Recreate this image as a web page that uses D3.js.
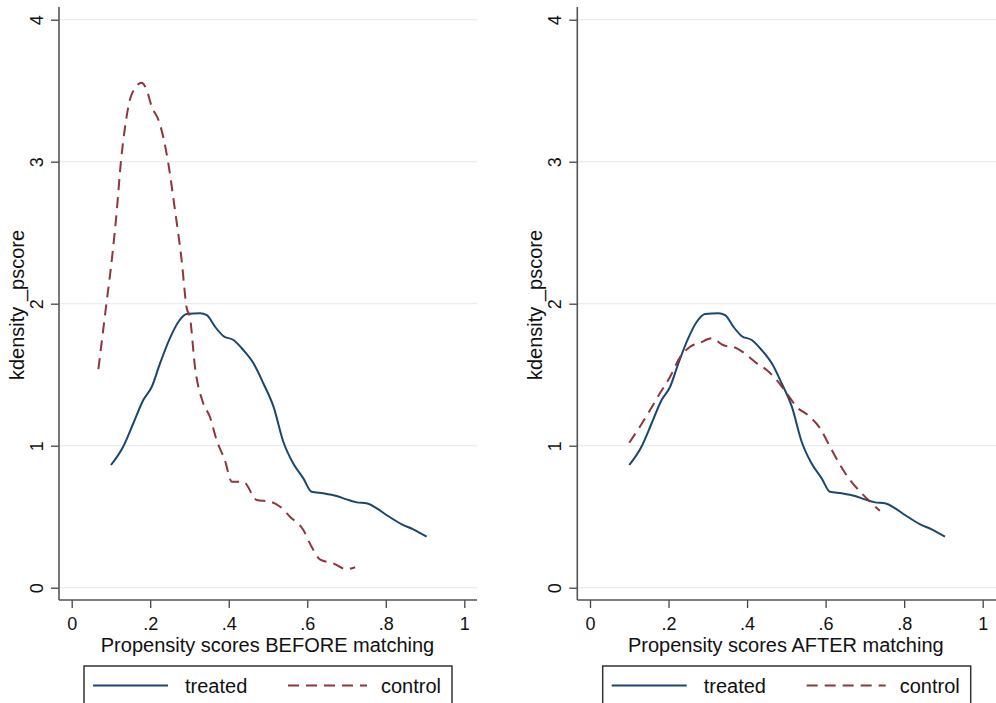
<!DOCTYPE html>
<html>
<head>
<meta charset="utf-8">
<script src="https://cdn.jsdelivr.net/npm/d3@7"></script>
<style>
  body { margin: 0; background: #fff; }
  svg { display: block; font-family: "Liberation Sans", Arial, sans-serif; }
</style>
</head>
<body>
<div id="chart"></div>
<script>
// kernel density of the treated group (same curve in both panels)
const treatedX = [0.100, 0.131, 0.157, 0.182, 0.204, 0.225, 0.250, 0.272, 0.293, 0.327, 0.344, 0.365, 0.386, 0.412, 0.437, 0.463, 0.488, 0.514, 0.539, 0.564, 0.590, 0.611, 0.641, 0.675, 0.700, 0.726, 0.751, 0.777, 0.802, 0.841, 0.870, 0.904];
const treatedY = [0.864, 0.993, 1.158, 1.320, 1.415, 1.580, 1.756, 1.873, 1.927, 1.932, 1.920, 1.838, 1.773, 1.744, 1.674, 1.580, 1.440, 1.275, 1.028, 0.876, 0.770, 0.676, 0.665, 0.646, 0.622, 0.601, 0.594, 0.559, 0.512, 0.446, 0.411, 0.359];

// control group before matching
const beforeX = [0.068, 0.087, 0.104, 0.115, 0.125, 0.136, 0.148, 0.161, 0.178, 0.191, 0.204, 0.221, 0.233, 0.246, 0.263, 0.280, 0.293, 0.301, 0.314, 0.335, 0.352, 0.369, 0.390, 0.408, 0.437, 0.471, 0.505, 0.531, 0.556, 0.590, 0.611, 0.632, 0.666, 0.700, 0.722];
const beforeY = [1.540, 1.968, 2.355, 2.660, 2.990, 3.246, 3.434, 3.517, 3.556, 3.505, 3.387, 3.294, 3.176, 2.989, 2.660, 2.308, 1.968, 1.908, 1.556, 1.299, 1.204, 1.040, 0.899, 0.746, 0.746, 0.618, 0.606, 0.570, 0.500, 0.406, 0.289, 0.200, 0.172, 0.130, 0.144];

// control group after matching
const afterX = [0.100, 0.127, 0.153, 0.178, 0.204, 0.229, 0.255, 0.280, 0.310, 0.339, 0.374, 0.399, 0.425, 0.450, 0.475, 0.501, 0.526, 0.560, 0.586, 0.611, 0.637, 0.662, 0.688, 0.713, 0.738];
const afterY = [1.021, 1.134, 1.251, 1.369, 1.486, 1.622, 1.697, 1.725, 1.756, 1.709, 1.686, 1.639, 1.580, 1.533, 1.463, 1.369, 1.275, 1.204, 1.122, 0.993, 0.864, 0.758, 0.676, 0.606, 0.542];

const xTicks = [0, 0.2, 0.4, 0.6, 0.8, 1];
const xTickLabels = ["0", ".2", ".4", ".6", ".8", "1"];
const yTicks = [0, 1, 2, 3, 4];
const seriesNames = ["treated", "control"];

const width = 996, height = 703;
const navy = "#1a476f", maroon = "#90353b";

const svg = d3.select("#chart").append("svg")
    .attr("width", width)
    .attr("height", height);

const zip = (xs, ys) => xs.map((x, i) => ({ x: x, y: ys[i] }));

// one panel per graph; ox = position of the y axis line
function panel(ox, x0, x1, xRight, title, control, legendLeft, legendRight) {
    const top = 7, bottom = 600;
    const x = d3.scaleLinear().domain([0, 1]).range([x0, x1]);
    const y = d3.scaleLinear().domain([0, 4]).range([587.7, 19.7]);

    const g = svg.append("g");

    // grid lines
    g.selectAll(".grid")
        .data(yTicks)
        .join("line")
        .attr("x1", ox).attr("x2", xRight)
        .attr("y1", d => y(d)).attr("y2", d => y(d))
        .attr("stroke", "#ececec")
        .attr("stroke-width", 1.2);

    // y axis
    const ya = g.append("g")
        .attr("transform", `translate(${ox},0)`)
        .call(d3.axisLeft(y).tickValues(yTicks).tickSize(8).tickFormat(d3.format("d")));
    ya.select(".domain").remove();
    ya.selectAll(".tick line").attr("stroke", "#444").attr("stroke-width", 1.3);
    ya.selectAll(".tick text")
        .attr("transform", "rotate(-90)")
        .attr("x", 0).attr("y", 0)
        .attr("dx", 0).attr("dy", -16)
        .attr("text-anchor", "middle")
        .style("font-size", "18px")
        .attr("fill", "#111");

    // x axis
    const xa = g.append("g")
        .attr("transform", `translate(0,${bottom})`)
        .call(d3.axisBottom(x).tickValues(xTicks).tickSize(8).tickPadding(9)
            .tickFormat((d, i) => xTickLabels[i]));
    xa.select(".domain").remove();
    xa.selectAll(".tick line").attr("stroke", "#444").attr("stroke-width", 1.3);
    xa.selectAll(".tick text").style("font-size", "18px").attr("fill", "#111");

    // axis lines
    g.append("line")
        .attr("x1", ox).attr("x2", ox).attr("y1", top).attr("y2", bottom)
        .attr("stroke", "#555").attr("stroke-width", 1.6);
    g.append("line")
        .attr("x1", ox).attr("x2", xRight).attr("y1", bottom).attr("y2", bottom)
        .attr("stroke", "#555").attr("stroke-width", 1.6);

    const line = d3.line()
        .x(d => x(d.x))
        .y(d => y(d.y))
        .curve(d3.curveMonotoneX);

    g.append("path")
        .datum(zip(treatedX, treatedY))
        .attr("fill", "none")
        .attr("stroke", navy)
        .attr("stroke-width", 2)
        .attr("d", line);

    g.append("path")
        .datum(control)
        .attr("fill", "none")
        .attr("stroke", maroon)
        .attr("stroke-width", 2)
        .attr("stroke-dasharray", "11,7")
        .attr("d", line);

    // axis titles
    g.append("text")
        .attr("transform", `translate(${ox - 42},305) rotate(-90)`)
        .attr("text-anchor", "middle")
        .attr("dy", "0.35em")
        .style("font-size", "20px")
        .attr("fill", "#111")
        .text("kdensity _pscore");

    g.append("text")
        .attr("x", (x0 + x1) / 2 - 0.5)
        .attr("y", 652)
        .attr("text-anchor", "middle")
        .style("font-size", "20px")
        .attr("fill", "#111")
        .text(title);

    // legend
    const lg = g.append("g");
    lg.append("rect")
        .attr("x", legendLeft).attr("y", 666)
        .attr("width", legendRight - legendLeft).attr("height", 50)
        .attr("fill", "#fff").attr("stroke", "#333").attr("stroke-width", 1.5);
    const ly = 685.5;
    lg.append("line")
        .attr("x1", legendLeft + 9).attr("x2", legendLeft + 84)
        .attr("y1", ly).attr("y2", ly)
        .attr("stroke", navy).attr("stroke-width", 2);
    lg.append("text")
        .attr("x", legendLeft + 101).attr("y", ly).attr("dy", "0.35em")
        .style("font-size", "20px").attr("fill", "#111")
        .text(seriesNames[0]);
    lg.append("line")
        .attr("x1", legendLeft + 204).attr("x2", legendLeft + 283)
        .attr("y1", ly).attr("y2", ly)
        .attr("stroke", maroon).attr("stroke-width", 2)
        .attr("stroke-dasharray", "11,7");
    lg.append("text")
        .attr("x", legendLeft + 297).attr("y", ly).attr("dy", "0.35em")
        .style("font-size", "20px").attr("fill", "#111")
        .text(seriesNames[1]);
}

panel(59, 71.7, 464.3, 477, "Propensity scores BEFORE matching", zip(beforeX, beforeY), 84, 452);
panel(577.3, 590, 982.7, 996, "Propensity scores AFTER matching", zip(afterX, afterY), 602.7, 970.7);
</script>
</body>
</html>
